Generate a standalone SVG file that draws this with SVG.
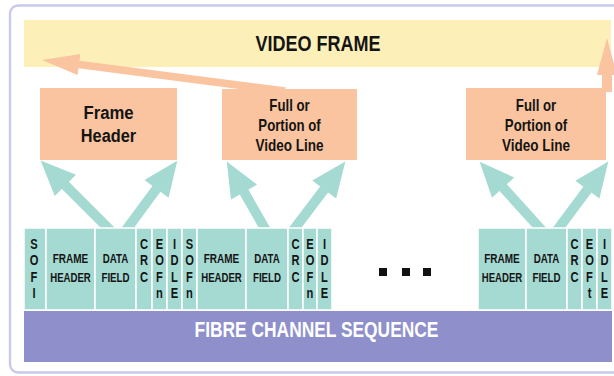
<svg xmlns="http://www.w3.org/2000/svg" width="614" height="376" viewBox="0 0 614 376">
  <defs>
    <style>
      .frame { fill: #ffffff; stroke: #c9c9ea; stroke-width: 2.4; }
      .video { fill: #fdefb8; }
      .peach { fill: #f9c49f; }
      .cell { fill: #a5dad3; stroke: #ffffff; stroke-width: 1.5; }
      .seq { fill: #8e8fcb; }
      .up { stroke: #a5dad3; stroke-width: 10; fill: none; marker-end: url(#tealHead); }
      text { font-family: "Liberation Sans", Arial, sans-serif; font-weight: bold; text-anchor: middle; fill: #141414; }
      .big { font-size: 22px; }
      .hdr { font-size: 19px; }
      .box { font-size: 16.5px; }
      .lbl { font-size: 12.5px; }
      .ltr { font-size: 15.5px; }
      .seqtxt { font-size: 22px; fill: #ffffff; }
    </style>
    <marker id="tealHead" viewBox="0 -1.5 3.6 3" markerWidth="3.6" markerHeight="3" refX="0.05" refY="0" orient="auto" markerUnits="strokeWidth" overflow="visible">
      <path d="M0,-1.5 L3.5,0 L0,1.5 Z" fill="#a5dad3"/>
    </marker>
  </defs>

  <!-- outer panel -->
  <rect class="frame" x="10" y="5.5" width="630" height="367" rx="8" ry="8"/>

  <!-- video frame bar -->
  <g id="video-frame">
    <rect class="video" x="24" y="20" width="587" height="47"/>
    <text class="big" transform="translate(318,50.5) scale(0.82,1)">VIDEO FRAME</text>
  </g>

  <!-- connectors -->
  <g id="connectors">
    <!-- payload to video frame -->
    <polygon class="peach" points="42,60 80.3,54.1 79.5,60.7 285.5,87.2 284.5,94.8 78.5,68.3 77.7,74.9"/>
    <polygon class="peach" points="607,38 617,75 612,75 612,92 602,92 602,75 597,75"/>
    <!-- fields to frame parts -->
    <line class="up" x1="116" y1="236" x2="65" y2="185"/>
    <line class="up" x1="121.7" y1="236" x2="156.8" y2="188.4"/>
    <line class="up" x1="269.1" y1="236" x2="243.8" y2="191.6"/>
    <line class="up" x1="288.9" y1="236" x2="324.5" y2="189.1"/>
    <line class="up" x1="547" y1="236" x2="502.8" y2="187.2"/>
    <line class="up" x1="552.8" y1="236" x2="587.7" y2="189.2"/>
  </g>

  <g id="frame-header">
    <rect class="peach" x="40" y="88" width="137" height="72"/>
    <text class="hdr" transform="translate(108.5,118.5) scale(0.88,1)">Frame</text>
    <text class="hdr" transform="translate(108.5,142) scale(0.86,1)">Header</text>
  </g>

  <g id="video-line-1">
    <rect class="peach" x="222" y="89" width="135" height="71"/>
    <text class="box" transform="translate(289.5,110.5) scale(0.8,1)">Full or</text>
    <text class="box" transform="translate(289.5,130.5) scale(0.8,1)">Portion of</text>
    <text class="box" transform="translate(289.5,150.5) scale(0.82,1)">Video Line</text>
  </g>

  <g id="video-line-n">
    <rect class="peach" x="466" y="88" width="140" height="72"/>
    <text class="box" transform="translate(536,110.5) scale(0.8,1)">Full or</text>
    <text class="box" transform="translate(536,130.5) scale(0.8,1)">Portion of</text>
    <text class="box" transform="translate(536,150.5) scale(0.82,1)">Video Line</text>
  </g>

  <!-- first frame -->
  <g id="frame-1">
    <rect class="cell" x="24" y="228" width="22" height="82"/>
    <rect class="cell" x="46" y="228" width="49" height="82"/>
    <rect class="cell" x="95" y="228" width="41" height="82"/>
    <rect class="cell" x="136" y="228" width="16" height="82"/>
    <rect class="cell" x="152" y="228" width="15" height="82"/>
    <rect class="cell" x="167" y="228" width="15" height="82"/>
    <text class="ltr" transform="translate(34,0) scale(0.72,1)"><tspan x="0" y="249">S</tspan><tspan x="0" y="265.5">O</tspan><tspan x="0" y="282">F</tspan><tspan x="0" y="298.5">I</tspan></text>
    <text class="lbl" transform="translate(70.5,263) scale(0.8,1)">FRAME</text>
    <text class="lbl" transform="translate(70.5,281.5) scale(0.77,1)">HEADER</text>
    <text class="lbl" transform="translate(115.5,263) scale(0.78,1)">DATA</text>
    <text class="lbl" transform="translate(115.5,281.5) scale(0.78,1)">FIELD</text>
    <text class="ltr" transform="translate(144,0) scale(0.72,1)"><tspan x="0" y="249">C</tspan><tspan x="0" y="265.5">R</tspan><tspan x="0" y="282">C</tspan></text>
    <text class="ltr" transform="translate(159.5,0) scale(0.72,1)"><tspan x="0" y="249">E</tspan><tspan x="0" y="265.5">O</tspan><tspan x="0" y="282">F</tspan><tspan x="0" y="298.5">n</tspan></text>
    <text class="ltr" transform="translate(174.5,0) scale(0.72,1)"><tspan x="0" y="249">I</tspan><tspan x="0" y="265.5">D</tspan><tspan x="0" y="282">L</tspan><tspan x="0" y="298.5">E</tspan></text>
  </g>

  <!-- second frame -->
  <g id="frame-2">
    <rect class="cell" x="182" y="228" width="15" height="82"/>
    <rect class="cell" x="197" y="228" width="49" height="82"/>
    <rect class="cell" x="246" y="228" width="42" height="82"/>
    <rect class="cell" x="288" y="228" width="15" height="82"/>
    <rect class="cell" x="303" y="228" width="14" height="82"/>
    <rect class="cell" x="317" y="228" width="15" height="82"/>
    <text class="ltr" transform="translate(189.5,0) scale(0.72,1)"><tspan x="0" y="249">S</tspan><tspan x="0" y="265.5">O</tspan><tspan x="0" y="282">F</tspan><tspan x="0" y="298.5">n</tspan></text>
    <text class="lbl" transform="translate(221.5,263) scale(0.8,1)">FRAME</text>
    <text class="lbl" transform="translate(221.5,281.5) scale(0.77,1)">HEADER</text>
    <text class="lbl" transform="translate(267,263) scale(0.78,1)">DATA</text>
    <text class="lbl" transform="translate(267,281.5) scale(0.78,1)">FIELD</text>
    <text class="ltr" transform="translate(295.5,0) scale(0.72,1)"><tspan x="0" y="249">C</tspan><tspan x="0" y="265.5">R</tspan><tspan x="0" y="282">C</tspan></text>
    <text class="ltr" transform="translate(310,0) scale(0.72,1)"><tspan x="0" y="249">E</tspan><tspan x="0" y="265.5">O</tspan><tspan x="0" y="282">F</tspan><tspan x="0" y="298.5">n</tspan></text>
    <text class="ltr" transform="translate(324.5,0) scale(0.72,1)"><tspan x="0" y="249">I</tspan><tspan x="0" y="265.5">D</tspan><tspan x="0" y="282">L</tspan><tspan x="0" y="298.5">E</tspan></text>
  </g>

  <!-- ellipsis -->
  <g id="ellipsis" fill="#111111">
    <rect x="379" y="268" width="8" height="8"/>
    <rect x="402" y="268" width="8" height="8"/>
    <rect x="423" y="268" width="8" height="8"/>
  </g>

  <!-- last frame -->
  <g id="frame-last">
    <rect class="cell" x="478" y="228" width="48" height="82"/>
    <rect class="cell" x="526" y="228" width="41" height="82"/>
    <rect class="cell" x="567" y="228" width="15" height="82"/>
    <rect class="cell" x="582" y="228" width="15" height="82"/>
    <rect class="cell" x="597" y="228" width="15" height="82"/>
    <text class="lbl" transform="translate(502,263) scale(0.8,1)">FRAME</text>
    <text class="lbl" transform="translate(502,281.5) scale(0.77,1)">HEADER</text>
    <text class="lbl" transform="translate(546.5,263) scale(0.78,1)">DATA</text>
    <text class="lbl" transform="translate(546.5,281.5) scale(0.78,1)">FIELD</text>
    <text class="ltr" transform="translate(574.5,0) scale(0.72,1)"><tspan x="0" y="249">C</tspan><tspan x="0" y="265.5">R</tspan><tspan x="0" y="282">C</tspan></text>
    <text class="ltr" transform="translate(589.5,0) scale(0.72,1)"><tspan x="0" y="249">E</tspan><tspan x="0" y="265.5">O</tspan><tspan x="0" y="282">F</tspan><tspan x="0" y="298.5">t</tspan></text>
    <text class="ltr" transform="translate(604.5,0) scale(0.72,1)"><tspan x="0" y="249">I</tspan><tspan x="0" y="265.5">D</tspan><tspan x="0" y="282">L</tspan><tspan x="0" y="298.5">E</tspan></text>
  </g>

  <g id="fibre-channel-sequence">
    <rect class="seq" x="24" y="311" width="588" height="51"/>
    <text class="seqtxt" transform="translate(316.5,336.5) scale(0.79,1)">FIBRE CHANNEL SEQUENCE</text>
  </g>
</svg>
